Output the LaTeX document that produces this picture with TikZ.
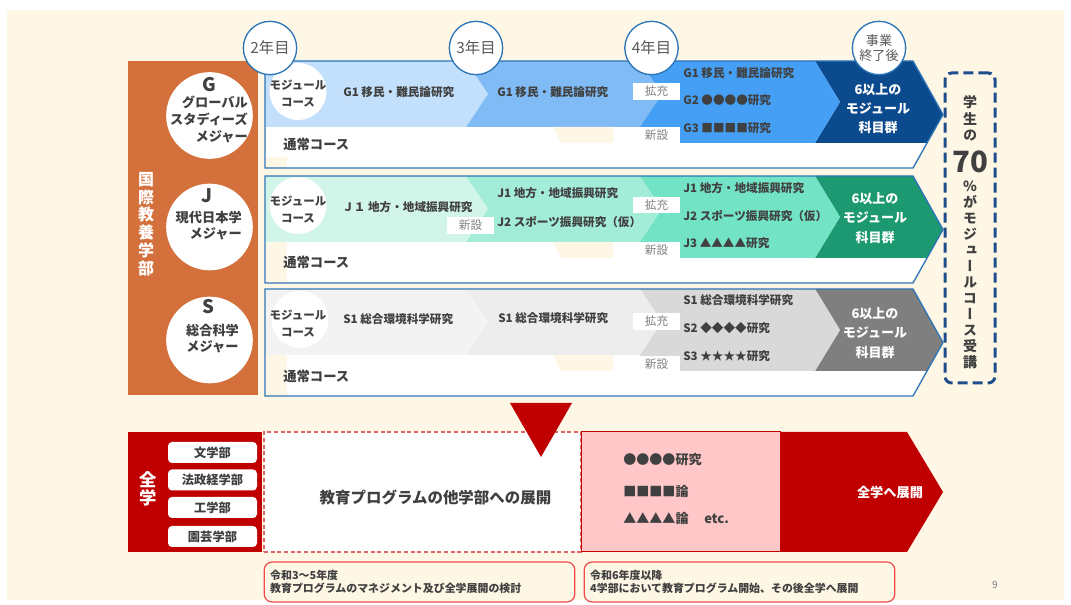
\documentclass[tikz,border=0pt]{standalone}
\usepackage{fontspec}
\newfontfamily\jp{Noto Sans CJK JP}
\newfontfamily\jpv[RawFeature=+vert]{Noto Sans CJK JP}
\definecolor{cream}{HTML}{FEF7E6}
\definecolor{orng}{HTML}{D4703C}
\definecolor{tc}{HTML}{404040}
\definecolor{lc}{HTML}{808080}
\definecolor{ycol}{HTML}{595959}
\definecolor{obl}{HTML}{2E75B6}
\definecolor{gA}{HTML}{C2DFFC}
\definecolor{gB}{HTML}{80BBF5}
\definecolor{gC}{HTML}{459FF4}
\definecolor{gD}{HTML}{0B4A8C}
\definecolor{jA}{HTML}{D2F5EA}
\definecolor{jB}{HTML}{A3EDD8}
\definecolor{jC}{HTML}{72E3C5}
\definecolor{jD}{HTML}{1C9971}
\definecolor{sA}{HTML}{F3F3F3}
\definecolor{sB}{HTML}{EDEDED}
\definecolor{sC}{HTML}{D9D9D9}
\definecolor{sD}{HTML}{7F7F7F}
\definecolor{dred}{HTML}{C00000}
\definecolor{pinkc}{HTML}{FFC7C7}
\definecolor{nred}{HTML}{F04848}
\definecolor{dashred}{HTML}{E36464}
\definecolor{dnavy}{HTML}{1F4E8C}
\newcommand\myfs[2]{\fontsize{#1}{#2}\selectfont}
% #1 top y, #2-#5 band colours, #6 top of left cream strip
\newcommand\majrow[6]{%
 \begin{scope}
 \clip (265,#1) -- (913,#1) -- (943,#1+53.5) -- (913,#1+107) -- (265,#1+107) -- cycle;
 \fill[white] (265,#1) rectangle (950,#1+107);
 \fill[#5] (815,#1) -- (950,#1) -- (950,#1+82) -- (815,#1+82) -- (840,#1+41) -- cycle;
 \fill[#4] (640,#1) -- (815,#1) -- (840,#1+41) -- (815,#1+82) -- (640,#1+82) -- cycle;
 \fill[#3] (466,#1) -- (640,#1) -- (662,#1+33) -- (640,#1+66) -- (466,#1+66) -- cycle;
 \fill[#2] (265,#1) -- (466,#1) -- (488,#1+33) -- (466,#1+66) -- (265,#1+66) -- cycle;
 \fill[cream] (266,#6) rectangle (287,#1+107);
 \fill[cream] (553,#1+66) -- (613,#1+66) -- (613,#1+82) -- (561,#1+82) -- cycle;
 \end{scope}
 \draw[obl, line width=1pt] (265,#1) -- (913,#1) -- (943,#1+53.5) -- (913,#1+107) -- (265,#1+107) -- cycle;
}
\tikzset{
 modc/.style={circle, fill=white, minimum size=42.75pt, inner sep=0pt},
 modt/.style={font=\jp\bfseries\myfs{8.6}{12.75}, text=tc, align=center, inner sep=0pt},
 bt/.style={font=\jp\bfseries\myfs{8.7}{10}, text=tc, inner sep=0pt, anchor=west},
 lab/.style={fill=white, minimum width=35.25pt, minimum height=12.3pt, inner sep=0pt, font=\jp\myfs{8.7}{10}, text=lc},
 wt/.style={font=\jp\bfseries\myfs{9.75}{14.4}, text=white, align=center, inner sep=0pt},
 nt/.style={font=\jp\bfseries\myfs{10}{12}, text=tc, inner sep=0pt, anchor=west},
 majc/.style={circle, fill=white, minimum size=65pt, inner sep=0pt},
 bigl/.style={font=\jp\bfseries\myfs{14}{16}, text=tc, inner sep=0pt},
 majt/.style={font=\jp\bfseries\myfs{9.9}{12.75}, text=tc, inner sep=0pt, align=right},
 yc/.style={circle, draw=obl, line width=1pt, fill=white, minimum size=40pt, inner sep=0pt, text=ycol, font=\jp\myfs{11.5}{13}},
 dept/.style={rounded corners=3pt, fill=white, minimum width=66.75pt, minimum height=15.75pt, inner sep=0pt, font=\jp\bfseries\myfs{9.2}{11}, text=tc},
 note/.style={draw=nred, line width=0.9pt, rounded corners=6pt, fill=cream, align=left, font=\jp\bfseries\myfs{8.2}{9.75}, text=tc, inner xsep=4.5pt, inner ysep=0pt, text width=224pt, minimum height=30pt},
 pt/.style={font=\jp\bfseries\myfs{9.8}{12}, text=tc, inner sep=0pt, anchor=west},
}
\begin{document}
\begin{tikzpicture}[x=0.75pt,y=-0.75pt]
\useasboundingbox (0,0) rectangle (1071,605);
\fill[white] (0,0) rectangle (1071,605);
\fill[cream] (7,10) rectangle (1064,600);

% left faculty block
\fill[orng] (128,61) rectangle (258,395);
\node[font=\jp\bfseries\myfs{12}{13.3}, text=white, align=center, inner sep=0pt] (kokusai) at (146,224) {国\\際\\教\\養\\学\\部};

\node[majc] (cg) at (209.5,115.5) {};
\node[bigl] (lg) at (209,85) {G};
\node[majt, anchor=east] (tg) at (248,119.5) {グローバル\\スタディーズ\\メジャー};
\node[majc] (cj) at (209.5,227) {};
\node[bigl] (lj) at (207,196) {J};
\node[majt, anchor=east, font=\jp\bfseries\myfs{9.9}{11.8}] (tj) at (242,225.5) {現代日本学\\メジャー};
\node[majc] (cs) at (209.5,340) {};
\node[bigl] (ls) at (208,307) {S};
\node[majt, align=center, font=\jp\bfseries\myfs{9.9}{12.5}] (ts) at (212.5,338.5) {総合科学\\メジャー};

% ---------- row G
\majrow{61}{gA}{gB}{gC}{gD}{157}
\node[modc] (gmc) at (298,91.5) {};
\node[modt] (gmt) at (298,93.5) {モジュール\\コース};
\node[bt] (g1a) at (343,92) {G1 移民・難民論研究};
\node[bt] (g1b) at (497,92) {G1 移民・難民論研究};
\node[lab] (gk) at (656.5,91.5) {拡充};
\node[lab] (gs) at (656.5,135) {新設};
\node[bt] (g1c) at (683,73) {G1 移民・難民論研究};
\node[bt] (g2c) at (683,100) {G2 ●●●●研究};
\node[bt] (g3c) at (683,128) {G3 ■■■■研究};
\node[wt] (gfin) at (878,108.5) {6以上の\\モジュール\\科目群};
\node[nt] (gn) at (283,144) {通常コース};

% ---------- row J
\majrow{176}{jA}{jB}{jC}{jD}{242}
\node[modc] (jmc) at (298,205.5) {};
\node[modt] (jmt) at (298,210) {モジュール\\コース};
\node[bt] (j1a) at (342,207) {Ｊ１ 地方・地域振興研究};
\node[lab] (js1) at (470.5,225.5) {新設};
\node[bt] (j1b) at (497,193) {J1 地方・地域振興研究};
\node[bt] (j2b) at (497,222) {J2 スポーツ振興研究（仮）};
\node[lab] (jk) at (656.5,205) {拡充};
\node[lab] (js) at (656.5,250) {新設};
\node[bt] (j1c) at (683,188) {J1 地方・地域振興研究};
\node[bt] (j2c) at (683,216) {J2 スポーツ振興研究（仮）};
\node[bt] (j3c) at (683,243) {J3 ▲▲▲▲研究};
\node[wt] (jfin) at (875,218) {6以上の\\モジュール\\科目群};
\node[nt] (jn) at (283,262) {通常コース};

% ---------- row S
\majrow{289}{sA}{sB}{sC}{sD}{355}
\node[modc] (smc) at (300,319.5) {};
\node[modt] (smt) at (298,323.5) {モジュール\\コース};
\node[bt] (s1a) at (343,319) {S1 総合環境科学研究};
\node[bt] (s1b) at (498,318) {S1 総合環境科学研究};
\node[lab] (sk) at (656.5,321.5) {拡充};
\node[lab] (ss) at (656.5,364.5) {新設};
\node[bt] (s1c) at (683,300) {S1 総合環境科学研究};
\node[bt] (s2c) at (683,328) {S2 ◆◆◆◆研究};
\node[bt] (s3c) at (683,356) {S3 ★★★★研究};
\node[wt] (sfin) at (875,333) {6以上の\\モジュール\\科目群};
\node[nt] (sn) at (283,376) {通常コース};

% year circles
\node[yc] (y2) at (270,48) {2年目};
\node[yc] (y3) at (476,48) {3年目};
\node[yc] (y4) at (651.5,48) {4年目};
\node[yc, align=center, font=\jp\myfs{9.8}{11.5}] (yend) at (879,48) {事業\\終了後};

% right dashed box
\node[draw=dnavy, dash pattern=on 7.5pt off 3.75pt, line width=2.25pt, rounded corners=5pt, minimum width=37.5pt, minimum height=232.5pt, inner sep=0pt] (pbox) at (970,228) {};
\node[font=\jpv\bfseries\myfs{10.5}{12.3}, text=tc, align=center, inner sep=0pt] (pct1) at (970,118.5) {学\\生\\の};
\node[font=\jp\bfseries\myfs{22}{24}, text=tc, inner sep=0pt] (pct70) at (970,162) {70};
\node[font=\jpv\bfseries\myfs{10.5}{12}, text=tc, align=center, inner sep=0pt] (pct2) at (970,275) {\%\\が\\モ\\ジ\\ュ\\ー\\ル\\コ\\ー\\ス\\受\\講};

% ---------- bottom section
\fill[dred] (128,432) rectangle (262,552);
\node[font=\jp\bfseries\myfs{13}{13.5}, text=white, align=center, inner sep=0pt] (zen) at (148,489) {全\\学};
\node[dept] (d1) at (212.5,452.5) {文学部};
\node[dept] (d2) at (212.5,480) {法政経学部};
\node[dept] (d3) at (212.5,507.5) {工学部};
\node[dept] (d4) at (212.5,536.5) {園芸学部};

\node[draw=dashred, dash pattern=on 3pt off 2pt, line width=0.9pt, fill=white, minimum width=237.75pt, minimum height=90pt, inner sep=0pt] (dbox) at (422.5,492) {};
\node[font=\jp\bfseries\myfs{11.6}{13}, text=tc, inner sep=0pt] (ext) at (435.5,497) {教育プログラムの他学部への展開};

\node[draw=dred, line width=0.75pt, fill=pinkc, minimum width=149.25pt, minimum height=90pt, inner sep=0pt] (pbx) at (680.5,492) {};
\node[pt] (p1) at (623,460) {●●●●研究};
\node[pt] (p2) at (623,492) {■■■■論};
\node[pt] (p3) at (623,519) {▲▲▲▲論\hspace{1.2em}etc.};

\fill[dred] (780,432) -- (907,432) -- (943,492) -- (907,552) -- (780,552) -- cycle;
\node[font=\jp\bfseries\myfs{9.9}{12}, text=white, inner sep=0pt] (zt) at (890,492) {全学へ展開};

\fill[dred] (510,403) -- (572,403) -- (541,457) -- cycle;

\node[note] (n1) at (419.5,582) {令和3～5年度\\教育プログラムのマネジメント及び全学展開の検討};
\node[note] (n2) at (739.5,582) {令和6年度以降\\4学部において教育プログラム開始、その後全学へ展開};

\node[font=\jp\myfs{7.5}{9}, text=lc, inner sep=0pt] (pg) at (995,585) {9};
\end{tikzpicture}
\end{document}
